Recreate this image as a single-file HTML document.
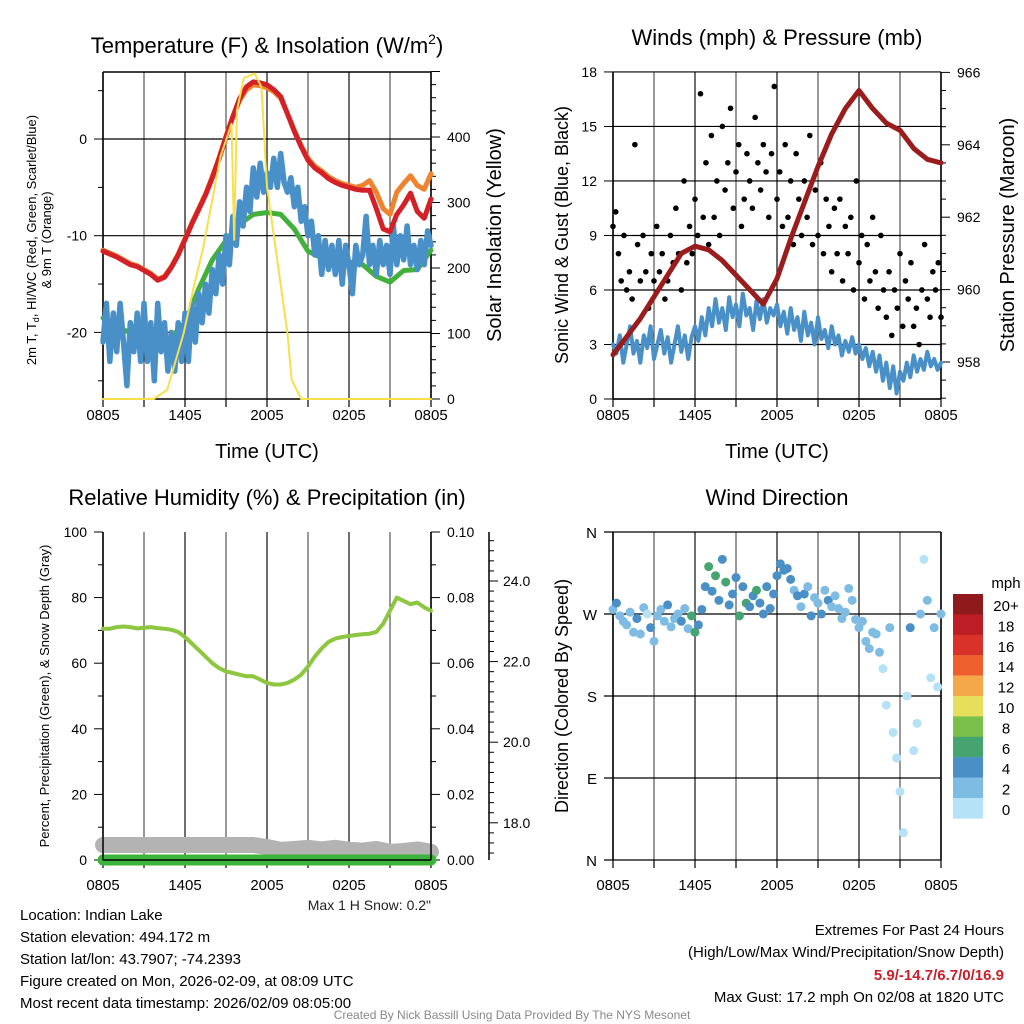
<!DOCTYPE html>
<html><head><meta charset="utf-8"><style>
body{margin:0;background:#fff}
svg{display:block;font-family:"Liberation Sans",Arial,sans-serif}
</style></head><body>
<svg id="s" width="1024" height="1024" viewBox="0 0 1024 1024"></svg>
<script>
// ---------- DATA ----------
const xTickLabels=["0805","1405","2005","0205","0805"];
const tempRed=[-11.6,-11.9,-12.2,-12.6,-13.0,-13.2,-13.6,-14.0,-14.6,-14.3,-13.3,-12.0,-10.4,-8.8,-7.3,-5.8,-4.0,-2.0,0.2,2.3,4.2,5.4,5.9,5.8,5.6,5.1,4.4,2.6,0.8,-0.8,-2.2,-3.0,-3.5,-4.1,-4.5,-4.8,-5.0,-5.2,-5.3,-5.3,-7.2,-9.3,-9.6,-7.8,-6.8,-5.6,-7.5,-8.2,-6.2];
const tempOrange=[-11.5,-11.8,-12.1,-12.5,-12.9,-13.1,-13.5,-13.9,-14.5,-14.2,-13.2,-11.9,-10.3,-8.7,-7.2,-5.7,-3.9,-1.9,0.3,2.3,4.0,5.1,5.6,5.5,5.3,4.9,4.2,2.6,0.9,-0.7,-2.0,-2.8,-3.3,-3.9,-4.3,-4.6,-4.8,-5.0,-4.8,-4.3,-5.5,-7.2,-7.8,-5.5,-4.6,-3.8,-4.8,-5.2,-3.6];
const tempGreen=[-18.5,-19.5,-20,-20.5,-21,-20.5,-19,-15.5,-12.5,-10.5,-8.8,-7.8,-7.6,-7.8,-9.3,-11.6,-12.3,-12.5,-12.7,-13,-14.2,-14.8,-13.6,-13.5,-11.5];
const dewBlue=[-21,-17,-23,-18,-22,-17,-21,-25.5,-19,-22,-18,-23,-17,-23,-19,-25,-17,-22,-19,-24,-20,-24,-19,-23,-18,-23,-17,-21,-16,-19,-15,-18,-13.5,-16,-12,-15,-10,-13,-8,-11,-6.5,-9,-5,-7.5,-3,-6,-2.5,-5.5,-3.5,-5,-2,-5,-1.5,-4.5,-5.5,-4,-7,-5,-8.5,-7,-10,-8.5,-12,-10,-14,-10.5,-13.5,-11,-14,-10.5,-15,-11,-13,-16,-11,-13,-12,-8,-13,-11,-14,-10.5,-13,-11,-14,-9,-13,-10,-12.5,-9,-13,-11,-13.5,-10.5,-13,-9.5,-11];
const solarTimes=[0,3.7,4.7,5.9,6.7,7.3,8.6,9.4,9.6,9.8,10.3,11.1,11.6,12.0,13.5,13.8,14.5,24];
const solarVals=[0,0,14,100,177,228,370,420,243,440,490,497,476,324,100,30,0,0];
const windSpd=[3,2.5,3.5,2,3,4,2.5,3.2,2,3.5,2.8,4,2.2,3,3.8,2.5,3.4,2,3,4,2.6,3.5,2.2,3.4,4,3.2,4.5,3.5,5,4,5.5,4.2,5,3.8,5.6,4.5,5.2,4,5.8,4.6,5,3.8,5.4,4.4,5.5,4.2,5,4.6,5.2,4,4.8,3.6,5,3.8,4.5,3.2,4.8,3.5,4.2,3,4.5,3.3,3.8,2.8,4,3,3.5,2.4,3.2,2.6,3.4,2.5,3,2.2,2.8,1.8,2.6,1.5,2.4,1,2,0.6,1.8,0.3,1.5,1,2,1.2,2.4,1.5,2.2,1.6,2.6,1.8,2.2,1.6,2.0];
const gusts=[9.5,10.3,8.0,6.5,9.0,6.0,7.0,5.5,14.0,8.5,6.5,9.0,7.0,5.0,8.0,6.5,9.5,7.0,8.0,5.5,6.5,9.0,7.5,10.5,8.0,6.0,12.0,7.5,9.5,8.0,11.0,9.0,16.8,10.0,13.0,8.5,14.5,10.0,12.0,9.0,15.0,11.5,13.0,16.0,10.5,12.5,14.0,9.5,11.0,13.5,12.0,10.5,15.5,13.0,11.5,14.0,12.5,10.0,13.5,17.2,11.0,12.5,9.5,14.0,10.0,12.0,8.5,13.5,11.0,9.0,12.0,10.0,14.5,8.5,11.5,9.0,13.0,8.0,11.0,9.5,7.0,10.5,8.0,11.0,6.5,9.5,8.0,10.0,6.0,12.0,7.5,9.0,5.5,8.5,6.5,10.0,7.0,5.0,9.0,6.0,4.5,7.0,3.5,6.0,5.0,8.0,4.0,6.5,5.5,7.5,4.0,5.0,3.0,6.0,8.5,5.5,4.5,7.0,6.0,7.5,4.5];
const pressure=[958.2,958.7,959.2,959.8,960.4,961.0,961.2,961.1,960.8,960.4,960.0,959.6,960.3,961.4,962.4,963.4,964.3,965.0,965.5,965.0,964.6,964.4,963.9,963.6,963.5];
const rh=[70.5,70.5,71,71.2,71,70.6,70.8,71,70.7,70.5,70.2,69.5,68,66,64,62,60,58.5,57.5,57,56.5,56,56,55,54,53.5,53.5,54,55,56.5,59,62,64.5,66.5,67.5,68,68.3,68.6,68.8,69,69.5,72,76,80,79,78,78.5,77,76];
const precip=[0,0,0,0,0,0,0,0,0,0,0,0,0,0,0,0,0,0,0,0,0,0,0,0,0];
const snowDepth=[17.45,17.45,17.45,17.45,17.45,17.45,17.45,17.45,17.45,17.45,17.45,17.45,17.4,17.33,17.35,17.38,17.34,17.38,17.33,17.31,17.35,17.28,17.3,17.34,17.28];
const windDir=[275,282,268,262,258,272,250,265,248,277,270,255,240,268,275,262,280,256,265,270,262,276,254,268,250,258,275,300,322,295,312,285,330,305,280,292,310,268,300,282,278,290,296,282,270,300,276,292,312,325,318,320,308,296,290,278,292,300,268,288,282,270,296,285,278,290,276,265,272,298,285,264,255,262,240,232,250,248,228,210,170,255,140,112,75,30,180,255,120,150,270,330,285,200,255,190,270];
const dirSpd=[3,4.5,2.5,3,2,3.5,2,4.2,2.5,3,1.5,4.5,2.5,3,2,3.5,4.2,3,2.5,3,4.5,2.5,3,7,7.5,5,4.5,5,6.5,5,7,4.5,5,6.5,4.5,5.5,4.5,6.5,5,7,5,4.5,6,5,4.5,5.5,5,4.5,5,4.5,5,4.5,4,3.5,4.5,3,5,3.5,4.5,3.5,3,4.5,3.5,4.5,3,3.5,3,2.5,2.5,3.5,3,2.5,3,2.5,2,2.5,3,2.2,2.5,1.5,1,2.5,1,1.5,1,1,1.5,4,1,1.5,3,1.5,2.5,1.5,2.5,1,2.5];
const cbLabels=["20+","18","16","14","12","10","8","6","4","2","0"];
const cbColors=["#8e1a1c","#bd1e26","#d8322a","#ee5f2e","#f5a84a","#e7df5c","#7bc04a","#46a470","#4a8fc6","#7fbce4","#b6e2f7"];

// ---------- DRAW ----------
const NS="http://www.w3.org/2000/svg",S=document.getElementById('s');
function el(t,a,p){const e=document.createElementNS(NS,t);for(const k in a)e.setAttribute(k,a[k]);(p||S).appendChild(e);return e;}
function tx(x,y,s,size,anchor,extra){const e=el('text',Object.assign({x:x,y:y,'font-size':size,'text-anchor':anchor||'middle',fill:'#000'},extra||{}));e.textContent=s;return e;}
function line(x1,y1,x2,y2,c,w){return el('line',{x1,y1,x2,y2,stroke:c||'#000','stroke-width':w||1});}
function ser(arr){const n=arr.length;return arr.map((v,i)=>[i*24/(n-1),v]);}
function path(pts,xf,yf,c,w,name){const e=el('path',{d:pts.map((p,i)=>(i?'L':'M')+xf(p[0]).toFixed(1)+','+yf(p[1]).toFixed(1)).join(''),fill:'none',stroke:c,'stroke-width':w,'stroke-linejoin':'round','stroke-linecap':'round'});

return e;}

function frame(x0,x1,y0,y1,name,lblOff){
  const g=el('g',{});
  
  
  const xf=t=>x0+t*(x1-x0)/24;
  for(let h=0;h<=24;h+=3){const x=xf(h);line(x,y0,x,y1,h%6==0?'#222':'#333',h%6==0?1.3:1);line(x,y1,x,y1+8,'#000',1.2);}
  xTickLabels.forEach((l,i)=>{const t=tx(xf(i*6),y1+lblOff,l,15);});
  return xf;
}

// Panel 1: temperature
(function(){
 const x0=103,x1=431,y0=72,y1=399;
 const xf=frame(x0,x1,y0,y1,'temperature-panel',21);
 const yf=v=>139-(v)*9.67, yr=v=>399-v*0.655;
 [-20,-10,0].forEach(v=>{line(x0,yf(v),x1,yf(v),'#000',1.2);line(x0-9,yf(v),x0,yf(v));tx(x0-16,yf(v)+5,String(v),14,'end');});
 [-25,-15,-5,5].forEach(v=>line(x0-5,yf(v),x0,yf(v)));
 for(let v=0;v<=500;v+=20){line(x1,yr(v),x1+(v%100?5:9),yr(v));}
 [0,100,200,300,400].forEach(v=>tx(x1+16,yr(v)+5,String(v),14,'start'));
 line(x0,y0,x1,y0,'#000',1.5);line(x0,y0,x0,y1,'#000',1.5);line(x1,y0,x1,y1,'#000',1.5);line(x0,y1,x1,y1,'#000',1.5);
 path(ser(tempGreen),xf,yf,'#44b03c',5,'dewpoint-line');
 path(ser(dewBlue),xf,yf,'#4a90c8',5.5,'windchill-line');
 path(ser(tempOrange),xf,yf,'#f0832e',5,'temp-9m-line');
 path(ser(tempRed),xf,yf,'#d42128',5,'temp-2m-line');
 path(solarTimes.map((t,i)=>[t,solarVals[i]]),xf,yr,'#f8df4c',2,'solar-line');
 tx(267,53,'Temperature (F) & Insolation (W/m',22).innerHTML='Temperature (F) &amp; Insolation (W/m<tspan font-size="14" dy="-9">2</tspan><tspan dy="9">)</tspan>';
 tx(0,0,'',13,'middle',{transform:'translate(36,240) rotate(-90)'}).innerHTML='2m T, T<tspan font-size="9" dy="3">d</tspan><tspan dy="-3">, HI/WC (Red, Green, Scarlet/Blue)</tspan>';
 tx(0,0,'& 9m T (Orange)',13,'middle',{transform:'translate(51,240) rotate(-90)'});
 tx(0,0,'Solar Insolation (Yellow)',20,'middle',{transform:'translate(501,235) rotate(-90)'});
 tx(267,458,'Time (UTC)',20);
})();

// Panel 2: winds
(function(){
 const x0=613,x1=941,y0=72,y1=399;
 const xf=frame(x0,x1,y0,y1,'winds-panel',21);
 const yf=v=>399-v*18.17, yp=v=>362-(v-958)*36.2;
 [0,3,6,9,12,15,18].forEach(v=>{line(x0,yf(v),x1,yf(v),'#000',1.2);line(x0-9,yf(v),x0,yf(v));tx(x0-16,yf(v)+5,String(v),14,'end');});
 for(let v=957;v<=966;v+=0.5)line(x1,yp(v),x1+(v%2==0?9:5),yp(v));
 [958,960,962,964,966].forEach(v=>tx(x1+16,yp(v)+5,String(v),14,'start'));
 line(x0,y0,x0,y1,'#000',1.5);line(x1,y0,x1,y1,'#000',1.5);line(x0,y1,x1,y1,'#000',1.5);
 path(ser(windSpd),xf,yf,'#4a90c8',4,'wind-speed-line');
 ser(gusts).forEach(p=>{const c=el('circle',{cx:xf(p[0]),cy:yf(p[1]),r:2.8,fill:'#000'});
  });
 path(ser(pressure),xf,yp,'#9b1c1c',5,'pressure-line');
 tx(777,45,'Winds (mph) & Pressure (mb)',22);
 tx(0,0,'Sonic Wind & Gust (Blue, Black)',18,'middle',{transform:'translate(568,235) rotate(-90)'});
 tx(0,0,'Station Pressure (Maroon)',20,'middle',{transform:'translate(1014,235) rotate(-90)'});
 tx(777,458,'Time (UTC)',20);
})();

// Panel 3: RH
(function(){
 const x0=103,x1=431,y0=532,y1=860;
 const xf=frame(x0,x1,y0,y1,'humidity-panel',30);
 const yf=v=>860-v*3.28, yp=v=>860-v*3280, ys=v=>581+(24-v)*40.3;
 [0,20,40,60,80,100].forEach(v=>{line(x0-9,yf(v),x0,yf(v));tx(x0-16,yf(v)+5,String(v),14,'end');});
 [10,30,50,70,90].forEach(v=>line(x0-5,yf(v),x0,yf(v)));
 for(let i=0;i<=10;i++){line(x1,yp(i*0.01),x1+(i%2?5:9),yp(i*0.01));}
 [0,0.02,0.04,0.06,0.08,0.1].forEach(v=>tx(x1+16,yp(v)+5,v.toFixed(2),14,'start'));
 line(489,532,489,860,'#000',1.5);
 for(let v=17.25;v<=25.2;v+=0.25){const isM=Math.abs(v%2)<0.01;line(489,ys(v),489+(isM?9:5),ys(v));}
 [18,20,22,24].forEach(v=>tx(503,ys(v)+5,v.toFixed(1),14,'start'));
 path(ser(snowDepth),xf,ys,'#b3b3b3',16,'snow-depth-line');
 path(ser(precip),xf,yp,'#3cb43c',11,'precip-line');
 line(x0,y0,x0,y1,'#000',1.5);line(x1,y0,x1,y1,'#000',1.5);line(x0,y1,x1,y1,'#000',1.5);
 path(ser(rh),xf,yf,'#8dc63f',4,'rh-line');
 tx(267,505,'Relative Humidity (%) & Precipitation (in)',22);
 tx(0,0,'Percent, Precipitation (Green), & Snow Depth (Gray)',13,'middle',{transform:'translate(49,696) rotate(-90)'});
 tx(431,910,'Max 1 H Snow: 0.2"',14,'end',{fill:'#222'});
})();

// Panel 4: wind direction
(function(){
 const x0=613,x1=941,y0=532,y1=860;
 const xf=frame(x0,x1,y0,y1,'direction-panel',30);
 const yf=d=>860-d*328/360;
 [['N',360],['W',270],['S',180],['E',90],['N',0]].forEach(a=>{line(x0-9,yf(a[1]),x1,yf(a[1]),'#000',1.2);tx(x0-16,yf(a[1])+6,a[0],15,'end');});
 line(x0,y0,x0,y1,'#000',1.5);line(x1,y0,x1,y1,'#000',1.5);
 const col=s=>{const i=Math.min(10,Math.floor(s/2));return cbColors[10-i];};
 ser(windDir).forEach((p,i)=>{const c=el('circle',{cx:xf(p[0]),cy:yf(p[1]),r:4.5,fill:col(dirSpd[i])});
  });
 tx(777,505,'Wind Direction',22);
 tx(0,0,'Direction (Colored By Speed)',18,'middle',{transform:'translate(568,696) rotate(-90)'});
 tx(1006,588,'mph',15);
 cbColors.forEach((c,i)=>{const r=el('rect',{x:953,y:594+i*20.4,width:30,height:20.6,fill:c});
  
  tx(1006,611+i*20.4,cbLabels[i],15);});
})();

// Footer
["Location: Indian Lake","Station elevation: 494.172 m","Station lat/lon: 43.7907; -74.2393","Figure created on Mon, 2026-02-09, at 08:09 UTC","Most recent data timestamp: 2026/02/09 08:05:00"].forEach((s,i)=>tx(20,920+i*22,s,15,'start'));
tx(1004,935,'Extremes For Past 24 Hours',15,'end');
tx(1004,957,'(High/Low/Max Wind/Precipitation/Snow Depth)',15,'end');
tx(1004,980,'5.9/-14.7/6.7/0/16.9',15,'end',{fill:'#c8202a','font-weight':'bold'});
tx(1004,1002,'Max Gust: 17.2 mph On 02/08 at 1820 UTC',15,'end');
tx(512,1019,'Created By Nick Bassill Using Data Provided By The NYS Mesonet',12,'middle',{fill:'#888'});
</script>
</body></html>
